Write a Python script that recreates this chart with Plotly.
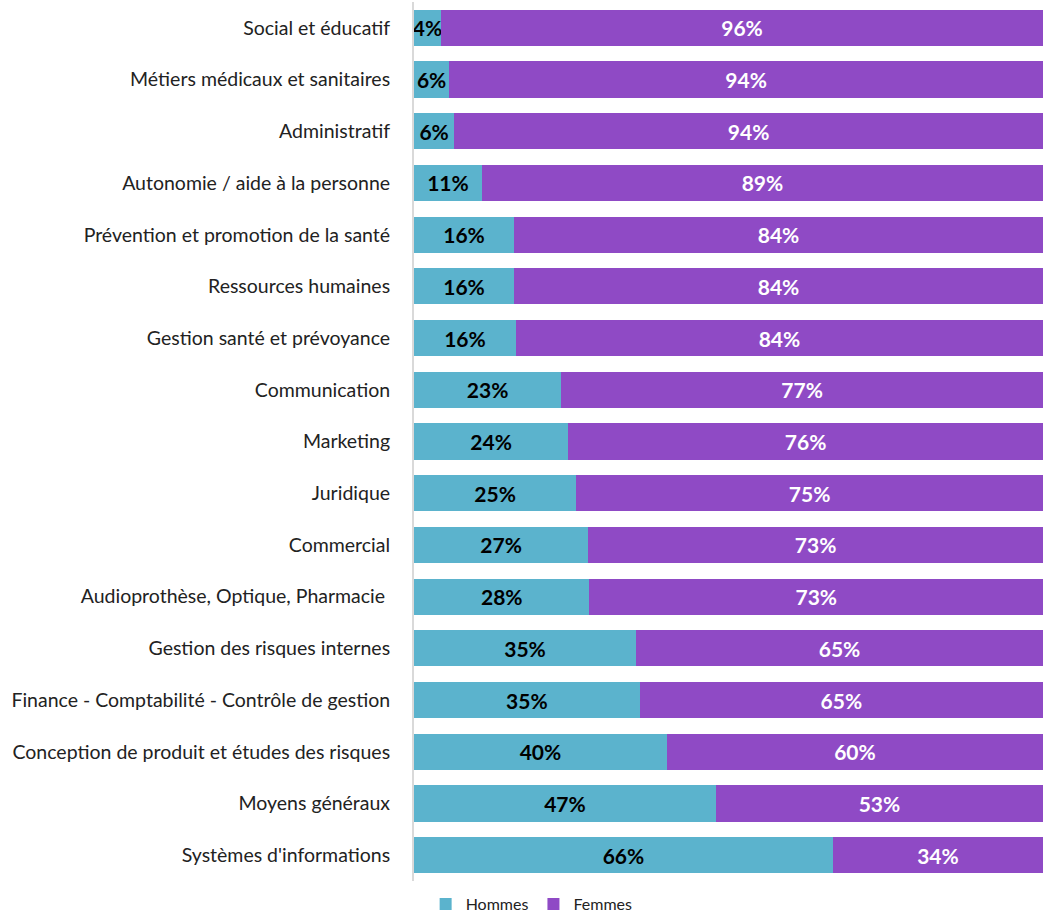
import plotly.graph_objects as go

categories = [
    "Social et éducatif",
    "Métiers médicaux et sanitaires",
    "Administratif",
    "Autonomie / aide à la personne",
    "Prévention et promotion de la santé",
    "Ressources humaines",
    "Gestion santé et prévoyance",
    "Communication",
    "Marketing",
    "Juridique",
    "Commercial",
    "Audioprothèse, Optique, Pharmacie ",
    "Gestion des risques internes",
    "Finance - Comptabilité - Contrôle de gestion",
    "Conception de produit et études des risques",
    "Moyens généraux",
    "Systèmes d'informations",
]

hommes = [4.3, 5.6, 6.4, 10.8, 15.9, 15.9, 16.2, 23.4, 24.5, 25.8, 27.7, 27.9, 35.3, 35.9, 40.2, 48.0, 66.6]
femmes = [95.7, 94.4, 93.6, 89.2, 84.1, 84.1, 83.8, 76.6, 75.5, 74.2, 72.3, 72.1, 64.7, 64.1, 59.8, 52.0, 33.4]

hommes_labels = ["4%", "6%", "6%", "11%", "16%", "16%", "16%", "23%", "24%", "25%", "27%", "28%", "35%", "35%", "40%", "47%", "66%"]
femmes_labels = ["96%", "94%", "94%", "89%", "84%", "84%", "84%", "77%", "76%", "75%", "73%", "73%", "65%", "65%", "60%", "53%", "34%"]

FONT = "Lato, 'Open Sans', sans-serif"

fig = go.Figure()
fig.add_trace(go.Bar(
    name="Hommes", y=categories, x=hommes, orientation="h",
    marker=dict(color="#5BB3CD", line=dict(width=0)),
    text=hommes_labels, textposition="inside", insidetextanchor="middle",
    textangle=0, cliponaxis=False,
    textfont=dict(family=FONT, size=21, color="#000000", weight="bold"),
    hoverinfo="skip",
))
fig.add_trace(go.Bar(
    name="Femmes", y=categories, x=femmes, orientation="h",
    marker=dict(color="#8F4AC5", line=dict(width=0)),
    text=femmes_labels, textposition="inside", insidetextanchor="middle",
    textangle=0,
    textfont=dict(family=FONT, size=21, color="#FFFFFF", weight="bold"),
    hoverinfo="skip",
))

fig.update_layout(
    width=1043, height=919,
    barmode="stack", bargap=0.3,
    paper_bgcolor="white", plot_bgcolor="white",
    margin=dict(l=414, r=0, t=2, b=38, autoexpand=False),
    font=dict(family=FONT, size=19.5, color="#222222"),
    uniformtext=dict(minsize=21, mode="show"),
    showlegend=True,
    legend=dict(orientation="h", x=0.0185, xanchor="left",
                yref="container", y=(919 - 887) / 919, yanchor="top",
                font=dict(family=FONT, size=16, color="#222222"),
                itemwidth=30, tracegroupgap=0, traceorder="normal"),
    xaxis=dict(range=[0, 100], visible=False, fixedrange=True),
    yaxis=dict(autorange="reversed", showline=True, linecolor="#D9D9D9", linewidth=2,
               ticks="", ticklabelstandoff=18, fixedrange=True,
               tickfont=dict(family=FONT, size=19.5, color="#222222")),
)

fig.write_html(
    "out.html",
    config={"displayModeBar": False},
    post_script="document.body.style.margin='0';document.body.style.overflow='hidden';",
)
